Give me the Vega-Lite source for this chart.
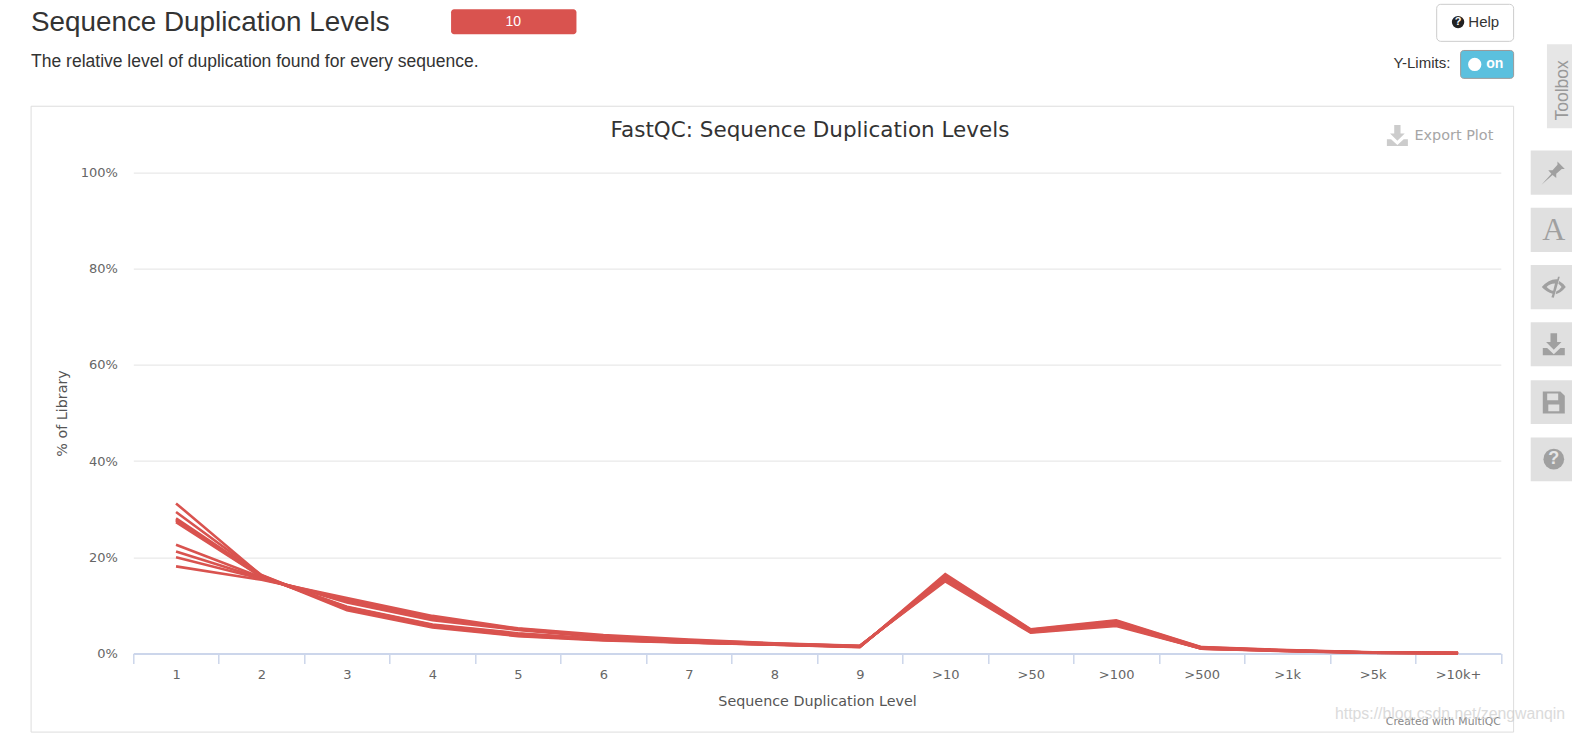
{"$schema":"https://vega.github.io/schema/vega-lite/v6.json","width":1367.5,"height":480.8,"autosize":{"type":"none"},"padding":{"left":133.3,"top":172.6,"right":71.2,"bottom":79.6},"background":"white","config":{"view":{"stroke":null}},"resolve":{"scale":{"x":"independent","y":"independent"}},
"layer":[
{"data":{"values":[{}]},"layer":[
{"mark":{"type":"rect","fill":null,"stroke":"#dddddd","strokeWidth":1},"encoding":{"x":{"datum":-1.196,"type":"quantitative","scale":{"domain":[0,16]},"axis":null},"x2":{"datum":16.15},"y":{"datum":113.8,"type":"quantitative","scale":{"domain":[0,100]},"axis":null},"y2":{"datum":-16.37}}},
{"mark":{"type":"text","align":"left","baseline":"alphabetic","font":"Liberation Sans","fontSize":27.8,"color":"#333333"},"encoding":{"text":{"value":"Sequence Duplication Levels"},"x":{"datum":-1.196,"type":"quantitative","scale":{"domain":[0,16]},"axis":null},"y":{"datum":129.4,"type":"quantitative","scale":{"domain":[0,100]},"axis":null}}},
{"mark":{"type":"text","align":"left","baseline":"alphabetic","font":"Liberation Sans","fontSize":17.5,"color":"#333333"},"encoding":{"text":{"value":"The relative level of duplication found for every sequence."},"x":{"datum":-1.196,"type":"quantitative","scale":{"domain":[0,16]},"axis":null},"y":{"datum":121.9,"type":"quantitative","scale":{"domain":[0,100]},"axis":null}}},
{"mark":{"type":"rect","fill":"#d9534f","cornerRadius":3},"encoding":{"x":{"datum":3.718,"type":"quantitative","scale":{"domain":[0,16]},"axis":null},"x2":{"datum":5.185},"y":{"datum":134,"type":"quantitative","scale":{"domain":[0,100]},"axis":null},"y2":{"datum":128.8}}},
{"mark":{"type":"text","align":"center","baseline":"middle","font":"Liberation Sans","fontSize":14,"color":"white"},"encoding":{"text":{"value":"10"},"x":{"datum":4.446,"type":"quantitative","scale":{"domain":[0,16]},"axis":null},"y":{"datum":131.4,"type":"quantitative","scale":{"domain":[0,100]},"axis":null}}},
{"mark":{"type":"rect","fill":"white","stroke":"#cccccc","cornerRadius":4},"encoding":{"x":{"datum":15.25,"type":"quantitative","scale":{"domain":[0,16]},"axis":null},"x2":{"datum":16.15},"y":{"datum":135,"type":"quantitative","scale":{"domain":[0,100]},"axis":null},"y2":{"datum":127.3}}},
{"mark":{"type":"point","shape":"circle","filled":true,"fill":"#222222","strokeWidth":0,"size":154,"opacity":1},"encoding":{"x":{"datum":15.5,"type":"quantitative","scale":{"domain":[0,16]},"axis":null},"y":{"datum":131.3,"type":"quantitative","scale":{"domain":[0,100]},"axis":null}}},
{"mark":{"type":"text","align":"center","baseline":"middle","font":"Liberation Sans","fontWeight":"bold","fontSize":11,"color":"white"},"encoding":{"text":{"value":"?"},"x":{"datum":15.5,"type":"quantitative","scale":{"domain":[0,16]},"axis":null},"y":{"datum":131.3,"type":"quantitative","scale":{"domain":[0,100]},"axis":null}}},
{"mark":{"type":"text","align":"left","baseline":"middle","font":"Liberation Sans","fontSize":15,"color":"#333333"},"encoding":{"text":{"value":"Help"},"x":{"datum":15.62,"type":"quantitative","scale":{"domain":[0,16]},"axis":null},"y":{"datum":131.3,"type":"quantitative","scale":{"domain":[0,100]},"axis":null}}},
{"mark":{"type":"text","align":"right","baseline":"middle","font":"Liberation Sans","fontSize":15,"color":"#333333"},"encoding":{"text":{"value":"Y-Limits:"},"x":{"datum":15.41,"type":"quantitative","scale":{"domain":[0,16]},"axis":null},"y":{"datum":122.7,"type":"quantitative","scale":{"domain":[0,100]},"axis":null}}},
{"mark":{"type":"rect","fill":"#5bc0de","stroke":"#999999","cornerRadius":3},"encoding":{"x":{"datum":15.53,"type":"quantitative","scale":{"domain":[0,16]},"axis":null},"x2":{"datum":16.15},"y":{"datum":125.4,"type":"quantitative","scale":{"domain":[0,100]},"axis":null},"y2":{"datum":119.6}}},
{"mark":{"type":"point","shape":"circle","filled":true,"fill":"white","strokeWidth":0,"size":177,"opacity":1},"encoding":{"x":{"datum":15.695,"type":"quantitative","scale":{"domain":[0,16]},"axis":null},"y":{"datum":122.5,"type":"quantitative","scale":{"domain":[0,100]},"axis":null}}},
{"mark":{"type":"text","align":"center","baseline":"middle","font":"Liberation Sans","fontWeight":"bold","fontSize":14,"color":"white"},"encoding":{"text":{"value":"on"},"x":{"datum":15.93,"type":"quantitative","scale":{"domain":[0,16]},"axis":null},"y":{"datum":122.5,"type":"quantitative","scale":{"domain":[0,100]},"axis":null}}},
{"mark":{"type":"rect","fill":"#e6e6e6"},"encoding":{"x":{"datum":16.54,"type":"quantitative","scale":{"domain":[0,16]},"axis":null},"x2":{"datum":16.9},"y":{"datum":126.7,"type":"quantitative","scale":{"domain":[0,100]},"axis":null},"y2":{"datum":109.2}}},
{"mark":{"type":"text","align":"center","baseline":"middle","angle":270,"font":"Liberation Sans","fontSize":17.5,"color":"#999999"},"encoding":{"text":{"value":"Toolbox"},"x":{"datum":16.73,"type":"quantitative","scale":{"domain":[0,16]},"axis":null},"y":{"datum":117.1,"type":"quantitative","scale":{"domain":[0,100]},"axis":null}}},
{"mark":{"type":"rect","fill":"#e0e0e0"},"encoding":{"x":{"datum":16.35,"type":"quantitative","scale":{"domain":[0,16]},"axis":null},"x2":{"datum":16.9},"y":{"datum":104.6,"type":"quantitative","scale":{"domain":[0,100]},"axis":null},"y2":{"datum":95.4}}},
{"mark":{"type":"rect","fill":"#e0e0e0"},"encoding":{"x":{"datum":16.35,"type":"quantitative","scale":{"domain":[0,16]},"axis":null},"x2":{"datum":16.9},"y":{"datum":92.7,"type":"quantitative","scale":{"domain":[0,100]},"axis":null},"y2":{"datum":83.5}}},
{"mark":{"type":"rect","fill":"#e0e0e0"},"encoding":{"x":{"datum":16.35,"type":"quantitative","scale":{"domain":[0,16]},"axis":null},"x2":{"datum":16.9},"y":{"datum":80.8,"type":"quantitative","scale":{"domain":[0,100]},"axis":null},"y2":{"datum":71.6}}},
{"mark":{"type":"rect","fill":"#e0e0e0"},"encoding":{"x":{"datum":16.35,"type":"quantitative","scale":{"domain":[0,16]},"axis":null},"x2":{"datum":16.9},"y":{"datum":68.9,"type":"quantitative","scale":{"domain":[0,100]},"axis":null},"y2":{"datum":59.7}}},
{"mark":{"type":"rect","fill":"#e0e0e0"},"encoding":{"x":{"datum":16.35,"type":"quantitative","scale":{"domain":[0,16]},"axis":null},"x2":{"datum":16.9},"y":{"datum":56.8,"type":"quantitative","scale":{"domain":[0,100]},"axis":null},"y2":{"datum":47.7}}},
{"mark":{"type":"rect","fill":"#e0e0e0"},"encoding":{"x":{"datum":16.35,"type":"quantitative","scale":{"domain":[0,16]},"axis":null},"x2":{"datum":16.9},"y":{"datum":44.9,"type":"quantitative","scale":{"domain":[0,100]},"axis":null},"y2":{"datum":35.8}}},
{"mark":{"type":"point","filled":true,"fill":"#a0a0a0","strokeWidth":0,"size":600,"opacity":1,"shape":"M0.3,-0.9 L0.9,-0.3 L0.65,-0.3 L0.2,0.1 L0.2,0.45 L-0.1,0.2 L-1,1 L-0.2,0.1 L-0.45,-0.2 L-0.1,-0.2 L0.3,-0.65 Z"},"encoding":{"x":{"datum":16.62,"type":"quantitative","scale":{"domain":[0,16]},"axis":null},"y":{"datum":100,"type":"quantitative","scale":{"domain":[0,100]},"axis":null}}},
{"mark":{"type":"text","align":"center","baseline":"middle","font":"Liberation Serif","fontSize":32,"color":"#a0a0a0"},"encoding":{"text":{"value":"A"},"x":{"datum":16.62,"type":"quantitative","scale":{"domain":[0,16]},"axis":null},"y":{"datum":88.1,"type":"quantitative","scale":{"domain":[0,100]},"axis":null}}},
{"mark":{"type":"point","filled":true,"fill":"#a0a0a0","strokeWidth":0,"size":576,"opacity":1,"shape":"M-1,0 Q-0.4,-0.7 0.3,-0.65 L0.35,-0.85 L0.5,-0.85 L0,0.9 L-0.2,0.85 L-0.1,0.55 Q-0.6,0.45 -1,0 Z M-0.6,0 Q-0.3,0.3 -0.05,0.3 L0.1,-0.3 Q-0.35,-0.3 -0.6,0 Z M0.45,-0.5 Q0.8,-0.3 1,0 Q0.6,0.5 0.15,0.6 L0.22,0.35 Q0.5,0.25 0.65,0 Q0.5,-0.2 0.38,-0.28 Z"},"encoding":{"x":{"datum":16.62,"type":"quantitative","scale":{"domain":[0,16]},"axis":null},"y":{"datum":76.2,"type":"quantitative","scale":{"domain":[0,100]},"axis":null}}},
{"mark":{"type":"point","filled":true,"fill":"#a0a0a0","strokeWidth":0,"size":484,"opacity":1,"shape":"M-0.3,-1 H0.3 V-0.2 H0.7 L0,0.5 L-0.7,-0.2 H-0.3 Z M-1,0.35 H-0.6 L0,0.9 L0.6,0.35 H1 V1 H-1 Z"},"encoding":{"x":{"datum":16.62,"type":"quantitative","scale":{"domain":[0,16]},"axis":null},"y":{"datum":64.3,"type":"quantitative","scale":{"domain":[0,100]},"axis":null}}},
{"mark":{"type":"point","filled":true,"fill":"#a0a0a0","strokeWidth":0,"size":484,"opacity":1,"shape":"M-1,-1 H0.6 L1,-0.6 V1 H-1 Z M-0.6,-0.8 V-0.2 H0.4 V-0.8 Z M-0.5,0.2 V0.8 H0.5 V0.2 Z"},"encoding":{"x":{"datum":16.62,"type":"quantitative","scale":{"domain":[0,16]},"axis":null},"y":{"datum":52.2,"type":"quantitative","scale":{"domain":[0,100]},"axis":null}}},
{"mark":{"type":"point","shape":"circle","filled":true,"fill":"#a0a0a0","strokeWidth":0,"size":430,"opacity":1},"encoding":{"x":{"datum":16.62,"type":"quantitative","scale":{"domain":[0,16]},"axis":null},"y":{"datum":40.4,"type":"quantitative","scale":{"domain":[0,100]},"axis":null}}},
{"mark":{"type":"text","align":"center","baseline":"middle","font":"Liberation Sans","fontWeight":"bold","fontSize":18,"color":"#e6e6e6"},"encoding":{"text":{"value":"?"},"x":{"datum":16.62,"type":"quantitative","scale":{"domain":[0,16]},"axis":null},"y":{"datum":40.4,"type":"quantitative","scale":{"domain":[0,100]},"axis":null}}},
{"mark":{"type":"text","align":"center","baseline":"middle","font":"DejaVu Sans","fontSize":21.5,"color":"#333333"},"encoding":{"text":{"value":"FastQC: Sequence Duplication Levels"},"x":{"datum":7.918,"type":"quantitative","scale":{"domain":[0,16]},"axis":null},"y":{"datum":108.6,"type":"quantitative","scale":{"domain":[0,100]},"axis":null}}},
{"mark":{"type":"text","align":"left","baseline":"middle","font":"DejaVu Sans","fontSize":14.4,"color":"#a6a6a6"},"encoding":{"text":{"value":"Export Plot"},"x":{"datum":14.99,"type":"quantitative","scale":{"domain":[0,16]},"axis":null},"y":{"datum":107.7,"type":"quantitative","scale":{"domain":[0,100]},"axis":null}}},
{"mark":{"type":"point","filled":true,"fill":"#cccccc","strokeWidth":0,"size":441,"opacity":1,"shape":"M-0.3,-1 H0.3 V-0.2 H0.7 L0,0.5 L-0.7,-0.2 H-0.3 Z M-1,0.35 H-0.6 L0,0.9 L0.6,0.35 H1 V1 H-1 Z"},"encoding":{"x":{"datum":14.79,"type":"quantitative","scale":{"domain":[0,16]},"axis":null},"y":{"datum":107.7,"type":"quantitative","scale":{"domain":[0,100]},"axis":null}}},
{"mark":{"type":"text","align":"right","baseline":"alphabetic","font":"DejaVu Sans","fontSize":10.8,"color":"#888888"},"encoding":{"text":{"value":"Created with MultiQC"},"x":{"datum":16,"type":"quantitative","scale":{"domain":[0,16]},"axis":null},"y":{"datum":-14.9,"type":"quantitative","scale":{"domain":[0,100]},"axis":null}}},
{"mark":{"type":"text","align":"left","baseline":"alphabetic","font":"Liberation Sans","fontSize":15.8,"color":"#cccccc","opacity":0.7},"encoding":{"text":{"value":"https://blog.csdn.net/zengwanqin"},"x":{"datum":14.06,"type":"quantitative","scale":{"domain":[0,16]},"axis":null},"y":{"datum":-13.7,"type":"quantitative","scale":{"domain":[0,100]},"axis":null}}}
]},
{"data":{"values":[
{"sample":"s1","level":"1","pct":31.2},{"sample":"s1","level":"2","pct":16.2},{"sample":"s1","level":"3","pct":9.0},{"sample":"s1","level":"4","pct":5.4},{"sample":"s1","level":"5","pct":3.6},{"sample":"s1","level":"6","pct":2.7},{"sample":"s1","level":"7","pct":2.2},{"sample":"s1","level":"8","pct":1.8},{"sample":"s1","level":"9","pct":1.3},{"sample":"s1","level":">10","pct":16.5},{"sample":"s1","level":">50","pct":5.0},{"sample":"s1","level":">100","pct":6.9},{"sample":"s1","level":">500","pct":1.3},{"sample":"s1","level":">1k","pct":0.7},{"sample":"s1","level":">5k","pct":0.25},{"sample":"s1","level":">10k+","pct":0.1},
{"sample":"s2","level":"1","pct":29.4},{"sample":"s2","level":"2","pct":16.3},{"sample":"s2","level":"3","pct":9.2},{"sample":"s2","level":"4","pct":5.6},{"sample":"s2","level":"5","pct":3.7},{"sample":"s2","level":"6","pct":2.8},{"sample":"s2","level":"7","pct":2.3},{"sample":"s2","level":"8","pct":1.8},{"sample":"s2","level":"9","pct":1.35},{"sample":"s2","level":">10","pct":16.2},{"sample":"s2","level":">50","pct":4.9},{"sample":"s2","level":">100","pct":6.7},{"sample":"s2","level":">500","pct":1.25},{"sample":"s2","level":">1k","pct":0.65},{"sample":"s2","level":">5k","pct":0.2},{"sample":"s2","level":">10k+","pct":0.08},
{"sample":"s3","level":"1","pct":28.1},{"sample":"s3","level":"2","pct":16.2},{"sample":"s3","level":"3","pct":9.4},{"sample":"s3","level":"4","pct":5.7},{"sample":"s3","level":"5","pct":3.8},{"sample":"s3","level":"6","pct":2.9},{"sample":"s3","level":"7","pct":2.3},{"sample":"s3","level":"8","pct":1.85},{"sample":"s3","level":"9","pct":1.4},{"sample":"s3","level":">10","pct":16.0},{"sample":"s3","level":">50","pct":4.8},{"sample":"s3","level":">100","pct":6.5},{"sample":"s3","level":">500","pct":1.2},{"sample":"s3","level":">1k","pct":0.6},{"sample":"s3","level":">5k","pct":0.2},{"sample":"s3","level":">10k+","pct":0.07},
{"sample":"s4","level":"1","pct":27.8},{"sample":"s4","level":"2","pct":16.0},{"sample":"s4","level":"3","pct":9.5},{"sample":"s4","level":"4","pct":5.8},{"sample":"s4","level":"5","pct":3.9},{"sample":"s4","level":"6","pct":2.85},{"sample":"s4","level":"7","pct":2.3},{"sample":"s4","level":"8","pct":1.85},{"sample":"s4","level":"9","pct":1.4},{"sample":"s4","level":">10","pct":15.8},{"sample":"s4","level":">50","pct":4.7},{"sample":"s4","level":">100","pct":6.4},{"sample":"s4","level":">500","pct":1.15},{"sample":"s4","level":">1k","pct":0.6},{"sample":"s4","level":">5k","pct":0.18},{"sample":"s4","level":">10k+","pct":0.06},
{"sample":"s5","level":"1","pct":27.6},{"sample":"s5","level":"2","pct":16.0},{"sample":"s5","level":"3","pct":9.6},{"sample":"s5","level":"4","pct":5.9},{"sample":"s5","level":"5","pct":4.1},{"sample":"s5","level":"6","pct":2.95},{"sample":"s5","level":"7","pct":2.4},{"sample":"s5","level":"8","pct":1.9},{"sample":"s5","level":"9","pct":1.42},{"sample":"s5","level":">10","pct":15.7},{"sample":"s5","level":">50","pct":4.65},{"sample":"s5","level":">100","pct":6.3},{"sample":"s5","level":">500","pct":1.12},{"sample":"s5","level":">1k","pct":0.58},{"sample":"s5","level":">5k","pct":0.17},{"sample":"s5","level":">10k+","pct":0.05},
{"sample":"s6","level":"1","pct":27.3},{"sample":"s6","level":"2","pct":15.9},{"sample":"s6","level":"3","pct":9.7},{"sample":"s6","level":"4","pct":6.0},{"sample":"s6","level":"5","pct":4.2},{"sample":"s6","level":"6","pct":3.0},{"sample":"s6","level":"7","pct":2.45},{"sample":"s6","level":"8","pct":1.9},{"sample":"s6","level":"9","pct":1.45},{"sample":"s6","level":">10","pct":15.6},{"sample":"s6","level":">50","pct":4.6},{"sample":"s6","level":">100","pct":6.2},{"sample":"s6","level":">500","pct":1.1},{"sample":"s6","level":">1k","pct":0.55},{"sample":"s6","level":">5k","pct":0.16},{"sample":"s6","level":">10k+","pct":0.05},
{"sample":"s7","level":"1","pct":22.6},{"sample":"s7","level":"2","pct":15.8},{"sample":"s7","level":"3","pct":10.6},{"sample":"s7","level":"4","pct":6.9},{"sample":"s7","level":"5","pct":4.9},{"sample":"s7","level":"6","pct":3.3},{"sample":"s7","level":"7","pct":2.5},{"sample":"s7","level":"8","pct":1.95},{"sample":"s7","level":"9","pct":1.5},{"sample":"s7","level":">10","pct":15.5},{"sample":"s7","level":">50","pct":4.5},{"sample":"s7","level":">100","pct":6.1},{"sample":"s7","level":">500","pct":1.05},{"sample":"s7","level":">1k","pct":0.55},{"sample":"s7","level":">5k","pct":0.15},{"sample":"s7","level":">10k+","pct":0.05},
{"sample":"s8","level":"1","pct":21.2},{"sample":"s8","level":"2","pct":15.6},{"sample":"s8","level":"3","pct":10.9},{"sample":"s8","level":"4","pct":7.2},{"sample":"s8","level":"5","pct":5.0},{"sample":"s8","level":"6","pct":3.5},{"sample":"s8","level":"7","pct":2.6},{"sample":"s8","level":"8","pct":2.0},{"sample":"s8","level":"9","pct":1.55},{"sample":"s8","level":">10","pct":15.3},{"sample":"s8","level":">50","pct":4.5},{"sample":"s8","level":">100","pct":6.0},{"sample":"s8","level":">500","pct":1.0},{"sample":"s8","level":">1k","pct":0.5},{"sample":"s8","level":">5k","pct":0.13},{"sample":"s8","level":">10k+","pct":0.04},
{"sample":"s9","level":"1","pct":20.0},{"sample":"s9","level":"2","pct":15.5},{"sample":"s9","level":"3","pct":11.2},{"sample":"s9","level":"4","pct":7.5},{"sample":"s9","level":"5","pct":5.1},{"sample":"s9","level":"6","pct":3.6},{"sample":"s9","level":"7","pct":2.75},{"sample":"s9","level":"8","pct":2.05},{"sample":"s9","level":"9","pct":1.55},{"sample":"s9","level":">10","pct":15.2},{"sample":"s9","level":">50","pct":4.4},{"sample":"s9","level":">100","pct":5.9},{"sample":"s9","level":">500","pct":1.0},{"sample":"s9","level":">1k","pct":0.5},{"sample":"s9","level":">5k","pct":0.12},{"sample":"s9","level":">10k+","pct":0.03},
{"sample":"s10","level":"1","pct":18.1},{"sample":"s10","level":"2","pct":15.3},{"sample":"s10","level":"3","pct":11.5},{"sample":"s10","level":"4","pct":7.8},{"sample":"s10","level":"5","pct":5.2},{"sample":"s10","level":"6","pct":3.8},{"sample":"s10","level":"7","pct":2.9},{"sample":"s10","level":"8","pct":2.1},{"sample":"s10","level":"9","pct":1.6},{"sample":"s10","level":">10","pct":15.0},{"sample":"s10","level":">50","pct":4.3},{"sample":"s10","level":">100","pct":5.7},{"sample":"s10","level":">500","pct":1.0},{"sample":"s10","level":">1k","pct":0.45},{"sample":"s10","level":">5k","pct":0.1},{"sample":"s10","level":">10k+","pct":0.02}
]},
"mark":{"type":"line","color":"#d9534f","strokeWidth":2.6,"clip":false},
"encoding":{
"detail":{"field":"sample"},
"x":{"field":"level","type":"ordinal","sort":["1","2","3","4","5","6","7","8","9",">10",">50",">100",">500",">1k",">5k",">10k+"],"scale":{"type":"band","domain":["1","2","3","4","5","6","7","8","9",">10",">50",">100",">500",">1k",">5k",">10k+"],"paddingInner":0,"paddingOuter":0},"axis":{"title":"Sequence Duplication Level","titleFont":"DejaVu Sans","titleFontSize":14.3,"titleFontWeight":"normal","titleColor":"#555555","titlePadding":13,"labelFont":"DejaVu Sans","labelFontSize":13,"labelColor":"#666666","labelAngle":0,"labelPadding":5,"tickBand":"extent","tickColor":"#ccd6eb","tickSize":10,"tickWidth":1.5,"domainColor":"#ccd6eb","domainWidth":2,"grid":false}},
"y":{"field":"pct","type":"quantitative","scale":{"domain":[0,100]},"axis":{"title":"% of Library","titleFont":"DejaVu Sans","titleFontSize":14.3,"titleFontWeight":"normal","titleColor":"#555555","titlePadding":11,"values":[0,20,40,60,80,100],"labelExpr":"datum.value + '%'","labelFont":"DejaVu Sans","labelFontSize":13,"labelColor":"#666666","labelPadding":16,"ticks":false,"domain":false,"grid":true,"gridColor":"#e3e3e3","gridWidth":1}}
}}
]}
